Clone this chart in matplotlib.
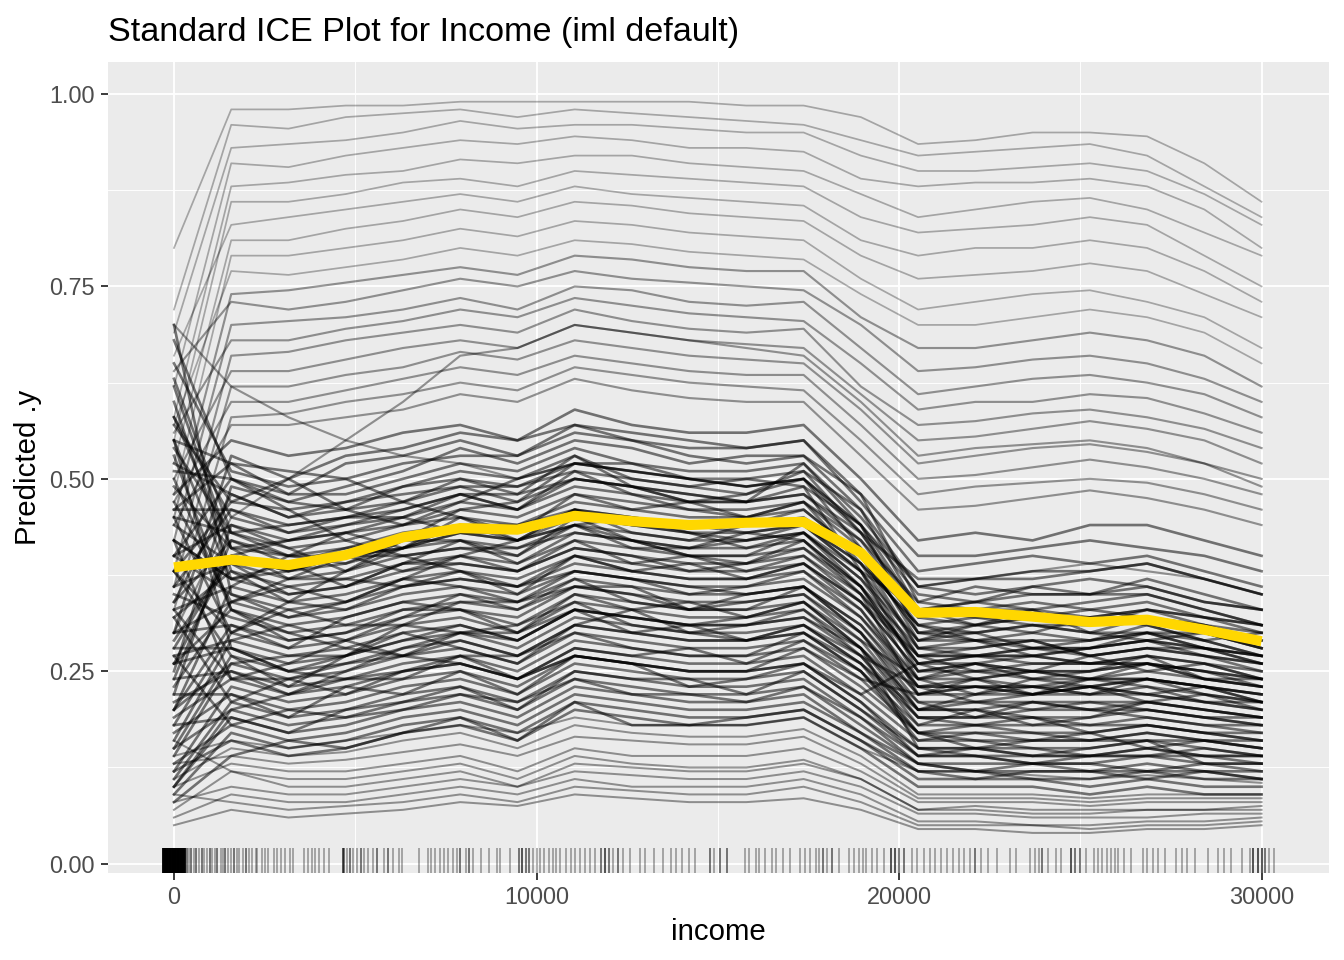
import matplotlib
matplotlib.use("Agg")
import matplotlib.pyplot as plt

# ---------------- data ----------------
grid_income = [0, 1579, 3158, 4737, 6316, 7895, 9474, 11053, 12632, 14211,
               15789, 17368, 18947, 20526, 22105, 23684, 25263, 26842, 28421, 30000]

pdp_values = [0.385, 0.395, 0.388, 0.401, 0.424, 0.436, 0.434, 0.452, 0.445, 0.440,
              0.443, 0.444, 0.404, 0.326, 0.327, 0.321, 0.314, 0.317, 0.304, 0.289]

ice_top = [
    [0.80,0.98,0.98,0.985,0.985,0.99,0.99,0.99,0.99,0.99,0.985,0.985,0.97,0.935,0.94,0.95,0.95,0.945,0.91,0.86],
    [0.72,0.96,0.955,0.97,0.975,0.98,0.97,0.98,0.975,0.97,0.965,0.96,0.94,0.92,0.925,0.93,0.935,0.92,0.88,0.84],
    [0.69,0.93,0.935,0.94,0.95,0.965,0.955,0.96,0.96,0.955,0.95,0.95,0.92,0.90,0.90,0.905,0.91,0.90,0.87,0.83],
    [0.62,0.91,0.905,0.92,0.93,0.94,0.935,0.945,0.94,0.93,0.93,0.925,0.89,0.88,0.885,0.885,0.89,0.88,0.85,0.80],
    [0.58,0.88,0.885,0.895,0.90,0.915,0.91,0.92,0.92,0.91,0.905,0.90,0.87,0.84,0.85,0.86,0.865,0.85,0.82,0.79],
    [0.55,0.86,0.86,0.87,0.885,0.89,0.88,0.90,0.895,0.89,0.885,0.88,0.84,0.82,0.825,0.83,0.84,0.83,0.79,0.75],
    [0.66,0.83,0.84,0.85,0.86,0.87,0.86,0.88,0.87,0.865,0.86,0.855,0.81,0.79,0.80,0.80,0.81,0.80,0.77,0.73],
    [0.52,0.81,0.81,0.825,0.835,0.85,0.84,0.86,0.855,0.845,0.84,0.835,0.79,0.76,0.765,0.77,0.78,0.77,0.74,0.71],
    [0.48,0.79,0.79,0.80,0.81,0.825,0.815,0.835,0.83,0.82,0.815,0.81,0.76,0.72,0.73,0.74,0.745,0.73,0.71,0.67],
    [0.57,0.77,0.765,0.775,0.785,0.80,0.79,0.81,0.805,0.795,0.79,0.785,0.74,0.70,0.70,0.71,0.72,0.71,0.69,0.65],
]

ice_upper = [
    [0.45,0.74,0.745,0.755,0.765,0.775,0.765,0.79,0.785,0.775,0.77,0.77,0.71,0.67,0.67,0.68,0.69,0.68,0.66,0.62],
    [0.64,0.73,0.72,0.73,0.745,0.76,0.75,0.77,0.76,0.755,0.75,0.745,0.70,0.64,0.645,0.655,0.66,0.65,0.63,0.60],
    [0.42,0.70,0.705,0.71,0.72,0.735,0.72,0.75,0.745,0.73,0.725,0.73,0.67,0.61,0.62,0.63,0.635,0.625,0.61,0.58],
    [0.56,0.68,0.68,0.695,0.705,0.72,0.71,0.735,0.725,0.715,0.71,0.705,0.65,0.59,0.60,0.60,0.61,0.605,0.585,0.56],
    [0.38,0.66,0.665,0.68,0.69,0.70,0.69,0.72,0.705,0.695,0.69,0.695,0.62,0.57,0.575,0.585,0.59,0.58,0.565,0.54],
    [0.50,0.64,0.64,0.655,0.67,0.68,0.67,0.70,0.69,0.68,0.675,0.67,0.61,0.55,0.555,0.565,0.575,0.565,0.55,0.52],
    [0.36,0.62,0.62,0.635,0.645,0.665,0.655,0.68,0.67,0.66,0.655,0.65,0.59,0.52,0.53,0.54,0.545,0.535,0.52,0.50],
    [0.47,0.60,0.60,0.615,0.63,0.645,0.635,0.66,0.65,0.64,0.635,0.635,0.57,0.50,0.505,0.515,0.525,0.515,0.50,0.48],
    [0.33,0.58,0.585,0.60,0.61,0.625,0.615,0.645,0.635,0.625,0.62,0.615,0.55,0.48,0.49,0.495,0.50,0.495,0.48,0.46],
    [0.44,0.57,0.57,0.58,0.59,0.61,0.60,0.63,0.615,0.605,0.60,0.60,0.53,0.46,0.465,0.475,0.485,0.475,0.46,0.44],
    [0.30,0.45,0.50,0.55,0.60,0.66,0.67,0.70,0.69,0.68,0.67,0.66,0.60,0.53,0.54,0.545,0.55,0.54,0.52,0.49],
    [0.70,0.62,0.58,0.55,0.53,0.52,0.50,0.52,0.51,0.50,0.49,0.50,0.44,0.36,0.37,0.38,0.39,0.38,0.37,0.35],
]

ice_center = [
    [0.48,0.55,0.53,0.54,0.56,0.57,0.55,0.59,0.57,0.56,0.56,0.57,0.50,0.42,0.43,0.42,0.44,0.44,0.42,0.40],
    [0.30,0.53,0.50,0.53,0.54,0.56,0.55,0.57,0.56,0.55,0.54,0.55,0.47,0.38,0.39,0.40,0.39,0.40,0.38,0.36],
    [0.65,0.51,0.49,0.50,0.52,0.53,0.53,0.56,0.55,0.53,0.52,0.53,0.48,0.40,0.40,0.41,0.42,0.41,0.40,0.38],
    [0.40,0.50,0.48,0.48,0.50,0.52,0.51,0.54,0.52,0.51,0.51,0.52,0.45,0.36,0.37,0.37,0.38,0.39,0.37,0.35],
    [0.25,0.49,0.47,0.46,0.49,0.51,0.50,0.52,0.52,0.50,0.49,0.50,0.44,0.35,0.34,0.36,0.35,0.36,0.34,0.33],
    [0.52,0.48,0.45,0.47,0.48,0.49,0.49,0.51,0.50,0.49,0.50,0.51,0.46,0.33,0.34,0.33,0.34,0.35,0.33,0.31],
    [0.36,0.46,0.44,0.45,0.47,0.49,0.47,0.50,0.49,0.48,0.47,0.48,0.42,0.34,0.33,0.33,0.32,0.33,0.32,0.30],
    [0.58,0.45,0.43,0.44,0.45,0.47,0.46,0.49,0.48,0.46,0.46,0.47,0.41,0.31,0.32,0.31,0.31,0.32,0.31,0.29],
    [0.22,0.44,0.42,0.43,0.44,0.46,0.45,0.48,0.47,0.46,0.45,0.46,0.40,0.30,0.30,0.31,0.30,0.30,0.30,0.28],
    [0.45,0.43,0.41,0.42,0.44,0.45,0.44,0.47,0.46,0.45,0.45,0.47,0.42,0.32,0.31,0.30,0.29,0.30,0.29,0.27],
    [0.34,0.42,0.39,0.41,0.43,0.44,0.43,0.46,0.45,0.44,0.44,0.44,0.38,0.29,0.29,0.28,0.28,0.29,0.28,0.26],
    [0.62,0.41,0.40,0.40,0.41,0.43,0.43,0.45,0.44,0.43,0.42,0.44,0.39,0.28,0.28,0.29,0.27,0.28,0.27,0.25],
    [0.28,0.40,0.38,0.39,0.41,0.42,0.41,0.44,0.43,0.42,0.42,0.43,0.37,0.27,0.27,0.27,0.26,0.27,0.26,0.25],
    [0.44,0.39,0.37,0.38,0.40,0.41,0.41,0.43,0.42,0.41,0.41,0.42,0.36,0.28,0.27,0.26,0.26,0.26,0.25,0.24],
    [0.32,0.38,0.36,0.37,0.39,0.40,0.39,0.42,0.41,0.40,0.40,0.41,0.35,0.26,0.26,0.25,0.25,0.26,0.25,0.23],
    [0.55,0.37,0.35,0.36,0.38,0.39,0.38,0.41,0.40,0.39,0.39,0.40,0.34,0.25,0.25,0.25,0.24,0.25,0.24,0.23],
    [0.20,0.36,0.34,0.35,0.37,0.38,0.37,0.40,0.39,0.38,0.38,0.39,0.33,0.24,0.25,0.24,0.24,0.24,0.23,0.22],
    [0.40,0.35,0.33,0.34,0.36,0.37,0.36,0.39,0.38,0.37,0.37,0.38,0.32,0.24,0.24,0.23,0.23,0.24,0.23,0.21],
    [0.30,0.34,0.32,0.33,0.35,0.36,0.35,0.38,0.37,0.36,0.36,0.37,0.32,0.23,0.23,0.23,0.22,0.23,0.22,0.21],
    [0.50,0.33,0.31,0.32,0.34,0.35,0.34,0.37,0.36,0.35,0.35,0.36,0.31,0.22,0.22,0.22,0.22,0.22,0.21,0.20],
    [0.18,0.30,0.34,0.38,0.42,0.46,0.47,0.52,0.51,0.50,0.49,0.50,0.43,0.33,0.34,0.35,0.35,0.35,0.33,0.31],
    [0.68,0.50,0.46,0.42,0.40,0.38,0.36,0.38,0.37,0.36,0.35,0.36,0.30,0.22,0.23,0.23,0.24,0.24,0.23,0.22],
    [0.46,0.52,0.51,0.50,0.47,0.45,0.42,0.44,0.42,0.40,0.39,0.42,0.36,0.26,0.27,0.28,0.28,0.29,0.28,0.27],
    [0.26,0.40,0.42,0.44,0.46,0.48,0.48,0.50,0.49,0.48,0.47,0.52,0.44,0.30,0.31,0.32,0.32,0.33,0.32,0.31],
    [0.38,0.47,0.46,0.47,0.49,0.50,0.49,0.52,0.51,0.50,0.50,0.49,0.38,0.27,0.27,0.28,0.27,0.28,0.27,0.26],
    [0.54,0.43,0.44,0.45,0.46,0.48,0.46,0.50,0.49,0.47,0.47,0.48,0.43,0.37,0.37,0.38,0.38,0.39,0.37,0.35],
    [0.24,0.42,0.40,0.41,0.42,0.44,0.42,0.45,0.44,0.43,0.43,0.44,0.38,0.33,0.32,0.32,0.31,0.33,0.31,0.29],
    [0.42,0.37,0.38,0.40,0.41,0.43,0.42,0.46,0.45,0.44,0.44,0.46,0.40,0.30,0.29,0.29,0.29,0.30,0.28,0.27],
]

ice_mixed = [
    [0.57,0.47,0.50,0.46,0.44,0.47,0.50,0.53,0.49,0.47,0.48,0.50,0.41,0.29,0.31,0.33,0.30,0.32,0.30,0.28],
    [0.33,0.36,0.40,0.43,0.41,0.45,0.43,0.48,0.46,0.47,0.45,0.47,0.39,0.31,0.29,0.30,0.32,0.31,0.29,0.30],
    [0.15,0.27,0.23,0.27,0.30,0.28,0.26,0.31,0.33,0.30,0.29,0.31,0.27,0.18,0.20,0.18,0.19,0.21,0.20,0.19],
    [0.60,0.38,0.34,0.33,0.36,0.38,0.35,0.40,0.38,0.39,0.37,0.39,0.34,0.25,0.26,0.24,0.25,0.27,0.24,0.23],
    [0.27,0.29,0.31,0.29,0.32,0.35,0.33,0.37,0.34,0.33,0.35,0.36,0.30,0.20,0.22,0.24,0.23,0.22,0.21,0.20],
    [0.49,0.41,0.37,0.40,0.38,0.40,0.42,0.44,0.45,0.43,0.41,0.43,0.36,0.26,0.24,0.25,0.27,0.25,0.26,0.24],
    [0.11,0.21,0.24,0.22,0.25,0.27,0.24,0.28,0.27,0.28,0.26,0.29,0.25,0.17,0.15,0.16,0.17,0.15,0.16,0.15],
    [0.40,0.44,0.41,0.38,0.41,0.44,0.44,0.46,0.43,0.42,0.44,0.45,0.40,0.28,0.29,0.27,0.28,0.30,0.28,0.26],
    [0.70,0.35,0.32,0.34,0.37,0.36,0.34,0.38,0.37,0.35,0.36,0.38,0.33,0.23,0.21,0.22,0.23,0.21,0.22,0.20],
    [0.19,0.24,0.26,0.29,0.27,0.30,0.31,0.34,0.31,0.30,0.31,0.32,0.28,0.19,0.19,0.21,0.20,0.19,0.18,0.18],
    [0.36,0.39,0.35,0.36,0.39,0.42,0.39,0.43,0.42,0.40,0.40,0.43,0.37,0.29,0.30,0.28,0.29,0.31,0.29,0.27],
    [0.53,0.33,0.29,0.30,0.33,0.33,0.30,0.35,0.33,0.34,0.32,0.34,0.28,0.21,0.19,0.20,0.21,0.20,0.19,0.19],
    [0.23,0.34,0.36,0.34,0.37,0.40,0.38,0.41,0.40,0.38,0.39,0.41,0.36,0.24,0.26,0.25,0.24,0.26,0.25,0.24],
    [0.08,0.14,0.16,0.15,0.17,0.19,0.16,0.21,0.18,0.18,0.19,0.20,0.16,0.12,0.11,0.12,0.12,0.11,0.12,0.11],
    [0.46,0.46,0.43,0.45,0.45,0.48,0.46,0.51,0.48,0.47,0.47,0.49,0.44,0.33,0.31,0.32,0.33,0.32,0.31,0.30],
    [0.30,0.31,0.28,0.32,0.34,0.33,0.32,0.36,0.36,0.33,0.34,0.35,0.29,0.24,0.22,0.23,0.22,0.24,0.22,0.21],
    [0.63,0.43,0.40,0.39,0.42,0.42,0.40,0.45,0.42,0.41,0.43,0.42,0.35,0.27,0.28,0.29,0.27,0.28,0.28,0.27],
    [0.17,0.22,0.19,0.23,0.22,0.25,0.22,0.27,0.26,0.23,0.24,0.26,0.21,0.14,0.15,0.14,0.15,0.16,0.13,0.13],
    [0.42,0.37,0.39,0.36,0.39,0.39,0.38,0.42,0.39,0.40,0.38,0.40,0.35,0.22,0.24,0.22,0.23,0.22,0.23,0.21],
    [0.26,0.28,0.25,0.27,0.31,0.30,0.29,0.33,0.30,0.31,0.29,0.31,0.26,0.17,0.18,0.19,0.17,0.18,0.17,0.16],
    [0.51,0.50,0.47,0.49,0.51,0.54,0.52,0.55,0.54,0.52,0.53,0.53,0.46,0.36,0.35,0.36,0.37,0.36,0.34,0.33],
    [0.13,0.18,0.20,0.19,0.20,0.22,0.21,0.24,0.22,0.22,0.21,0.23,0.19,0.13,0.12,0.13,0.13,0.12,0.13,0.12],
    [0.38,0.30,0.33,0.31,0.31,0.34,0.34,0.36,0.35,0.33,0.33,0.36,0.31,0.23,0.23,0.22,0.24,0.23,0.21,0.21],
    [0.58,0.41,0.42,0.43,0.45,0.43,0.42,0.46,0.44,0.44,0.43,0.44,0.39,0.31,0.30,0.31,0.30,0.29,0.30,0.28],
    [0.21,0.25,0.22,0.24,0.24,0.27,0.27,0.30,0.28,0.27,0.27,0.30,0.25,0.16,0.17,0.16,0.16,0.17,0.16,0.16],
    [0.34,0.48,0.45,0.46,0.47,0.50,0.48,0.53,0.50,0.49,0.48,0.51,0.43,0.32,0.33,0.34,0.33,0.34,0.32,0.31],
    [0.47,0.34,0.37,0.37,0.36,0.37,0.36,0.40,0.38,0.37,0.37,0.39,0.34,0.27,0.25,0.26,0.26,0.27,0.26,0.24],
    [0.10,0.19,0.17,0.20,0.21,0.23,0.20,0.25,0.24,0.24,0.22,0.25,0.20,0.14,0.14,0.13,0.14,0.14,0.15,0.14],
    [0.29,0.40,0.38,0.40,0.40,0.41,0.40,0.44,0.41,0.41,0.42,0.43,0.38,0.25,0.26,0.27,0.26,0.26,0.24,0.24],
    [0.55,0.52,0.48,0.52,0.53,0.55,0.53,0.57,0.55,0.54,0.54,0.55,0.48,0.34,0.36,0.35,0.35,0.37,0.35,0.33],
]

ice_low = [
    [0.35,0.32,0.30,0.31,0.33,0.34,0.33,0.36,0.35,0.34,0.34,0.35,0.30,0.21,0.21,0.21,0.20,0.21,0.20,0.19],
    [0.20,0.31,0.29,0.30,0.32,0.33,0.31,0.35,0.34,0.33,0.33,0.34,0.29,0.20,0.21,0.20,0.20,0.20,0.19,0.18],
    [0.45,0.30,0.28,0.29,0.31,0.32,0.30,0.34,0.33,0.32,0.32,0.33,0.28,0.20,0.20,0.19,0.19,0.20,0.19,0.18],
    [0.16,0.29,0.27,0.28,0.30,0.31,0.29,0.33,0.32,0.31,0.31,0.32,0.27,0.19,0.19,0.19,0.18,0.19,0.18,0.17],
    [0.28,0.28,0.26,0.27,0.29,0.30,0.28,0.32,0.31,0.30,0.30,0.31,0.26,0.19,0.18,0.18,0.18,0.18,0.17,0.17],
    [0.38,0.27,0.25,0.26,0.28,0.29,0.27,0.31,0.30,0.29,0.29,0.30,0.25,0.18,0.18,0.17,0.17,0.18,0.17,0.16],
    [0.14,0.26,0.24,0.25,0.27,0.28,0.26,0.30,0.29,0.28,0.28,0.29,0.24,0.17,0.17,0.17,0.16,0.17,0.16,0.15],
    [0.24,0.25,0.23,0.24,0.26,0.27,0.25,0.29,0.28,0.27,0.27,0.28,0.23,0.17,0.16,0.16,0.16,0.16,0.16,0.15],
    [0.42,0.24,0.22,0.23,0.25,0.26,0.24,0.28,0.27,0.26,0.26,0.27,0.22,0.16,0.16,0.15,0.15,0.16,0.15,0.14],
    [0.12,0.23,0.21,0.22,0.24,0.25,0.23,0.27,0.26,0.25,0.25,0.26,0.21,0.15,0.15,0.15,0.14,0.15,0.14,0.14],
    [0.22,0.22,0.20,0.21,0.23,0.24,0.22,0.26,0.25,0.24,0.24,0.25,0.20,0.15,0.14,0.14,0.14,0.14,0.14,0.13],
    [0.32,0.21,0.19,0.20,0.22,0.23,0.21,0.25,0.24,0.23,0.23,0.24,0.19,0.14,0.14,0.13,0.13,0.14,0.13,0.13],
    [0.10,0.20,0.18,0.19,0.21,0.22,0.20,0.24,0.23,0.22,0.22,0.23,0.18,0.13,0.13,0.13,0.12,0.13,0.12,0.12],
    [0.18,0.19,0.17,0.18,0.20,0.21,0.19,0.23,0.22,0.21,0.21,0.22,0.17,0.13,0.12,0.12,0.12,0.12,0.12,0.11],
    [0.27,0.18,0.16,0.17,0.19,0.20,0.18,0.22,0.21,0.20,0.20,0.21,0.17,0.12,0.12,0.11,0.11,0.12,0.11,0.11],
    [0.09,0.17,0.15,0.16,0.18,0.19,0.17,0.21,0.20,0.19,0.19,0.20,0.16,0.11,0.11,0.11,0.10,0.11,0.10,0.10],
    [0.55,0.28,0.25,0.24,0.25,0.26,0.24,0.27,0.26,0.25,0.25,0.28,0.24,0.22,0.23,0.22,0.23,0.24,0.23,0.22],
    [0.15,0.20,0.22,0.25,0.28,0.30,0.30,0.33,0.32,0.31,0.31,0.33,0.27,0.23,0.24,0.25,0.25,0.26,0.24,0.23],
    [0.26,0.33,0.30,0.28,0.27,0.26,0.24,0.27,0.26,0.25,0.25,0.26,0.22,0.26,0.27,0.27,0.28,0.29,0.27,0.26],
    [0.12,0.16,0.14,0.15,0.17,0.18,0.16,0.20,0.19,0.18,0.18,0.19,0.15,0.10,0.10,0.10,0.09,0.10,0.09,0.09],
    [0.20,0.26,0.27,0.27,0.29,0.31,0.29,0.33,0.32,0.31,0.32,0.34,0.28,0.15,0.15,0.14,0.14,0.15,0.14,0.14],
    [0.33,0.24,0.24,0.26,0.27,0.29,0.27,0.31,0.30,0.29,0.29,0.30,0.26,0.20,0.20,0.21,0.21,0.21,0.20,0.19],
]

ice_bottom = [
    [0.05,0.07,0.06,0.065,0.07,0.08,0.075,0.09,0.085,0.08,0.08,0.085,0.07,0.045,0.045,0.04,0.04,0.045,0.045,0.05],
    [0.06,0.09,0.08,0.08,0.09,0.10,0.09,0.11,0.10,0.10,0.10,0.11,0.09,0.055,0.055,0.05,0.05,0.055,0.055,0.06],
    [0.08,0.10,0.09,0.09,0.10,0.11,0.10,0.12,0.115,0.11,0.11,0.12,0.10,0.065,0.065,0.06,0.06,0.06,0.065,0.065],
    [0.07,0.12,0.11,0.11,0.12,0.13,0.11,0.14,0.13,0.125,0.125,0.135,0.11,0.07,0.075,0.07,0.07,0.07,0.07,0.075],
    [0.10,0.13,0.12,0.12,0.13,0.14,0.12,0.15,0.14,0.14,0.14,0.15,0.12,0.08,0.08,0.08,0.075,0.08,0.08,0.08],
    [0.13,0.14,0.13,0.135,0.145,0.155,0.14,0.165,0.16,0.155,0.155,0.165,0.13,0.085,0.085,0.085,0.08,0.085,0.085,0.085],
    [0.11,0.15,0.14,0.145,0.16,0.17,0.15,0.18,0.17,0.165,0.165,0.175,0.14,0.09,0.09,0.09,0.085,0.09,0.09,0.09],
    [0.16,0.12,0.10,0.10,0.11,0.12,0.10,0.13,0.125,0.12,0.12,0.13,0.11,0.07,0.07,0.065,0.065,0.07,0.07,0.07],
    [0.09,0.08,0.07,0.075,0.08,0.09,0.08,0.10,0.095,0.09,0.09,0.10,0.08,0.05,0.05,0.05,0.045,0.05,0.05,0.055],
    [0.14,0.16,0.15,0.16,0.17,0.18,0.17,0.19,0.18,0.18,0.18,0.19,0.15,0.12,0.12,0.115,0.11,0.115,0.11,0.105],
]

# rug: observed income positions (jittered as drawn) and how many marks overlap there
rug_income = [
    -300, -280, -260, -240, -220, -200, -180, -160, -140, -120, -100, -80, -60, -40, -20, 0,
    20, 40, 60, 80, 100, 120, 140, 160, 180, 200, 220, 240, 260, 280, 300,
    350, 420, 480, 560, 620, 700, 760, 830, 900, 980, 1050, 1130, 1200, 1290, 1350, 1420, 1500, 1580, 1650,
    1740, 1800, 1900, 1990, 2080, 2150, 2250, 2300, 2420, 2500, 2600,
    2750, 2850, 2950, 3050, 3200, 3280, 3600, 3700, 3800, 3900, 4000, 4150, 4270,
    4650, 4700, 4780, 4850, 4950, 5050, 5150, 5250, 5350, 5500, 5600, 5800, 5900, 6050, 6200, 6300,
    6750, 7000, 7100, 7200, 7350, 7450, 7550, 7700, 7800, 7900, 8050, 8150, 8250,
    8470, 8700, 8900, 8980, 9260,
    9510, 9600, 9700, 9800, 9900, 10000, 10100, 10200, 10350, 10450, 10550, 10650, 10800, 10950, 11050, 11200, 11350,
    11470, 11600, 11770, 11900, 12000, 12100, 12250, 12380,
    12570, 12850, 13000, 13250, 13500, 13700, 13850, 14000, 14200, 14360,
    14780, 14900, 15050, 15250,
    15740, 15850, 16050, 16150, 16300, 16500, 16600, 16800, 16980,
    17280, 17400, 17550, 17700, 17800, 17900, 18000, 18150, 18350,
    18610, 18750, 18900, 19000, 19100, 19250, 19400, 19580,
    19780, 19900, 20000, 20150, 20350,
    20490, 20700, 20850, 21000, 21150, 21310,
    21500, 21650, 21800, 21950, 22100, 22250, 22450, 22690,
    23050, 23240,
    23600, 23750, 23850, 23950, 24100, 24320, 24480,
    24730, 24850, 25000, 25150, 25390,
    25500, 25600, 25750, 25850, 25950, 26050, 26200, 26410,
    26720, 26850, 27000, 27150, 27340,
    27640, 27800, 27950, 28150,
    28510, 28800, 28950, 29150, 29450, 29690,
    29770, 29900, 30000, 30100, 30200, 30350,
]
rug_count = (
    [12] * 31 +
    [2, 1, 2, 1, 2, 1, 2, 1, 1, 2, 1, 1, 2, 1, 1, 2, 1, 1, 2, 1, 1, 1, 2, 1, 1, 1, 1, 1, 1, 1] +
    [1, 1, 1, 1, 1, 1, 1, 1, 1, 1, 1, 1, 1] +
    [3, 2, 1, 2, 1, 1, 2, 1, 1, 1, 2, 1, 2, 1, 1, 1] +
    [1, 1, 1, 1, 1, 1, 1, 1, 1, 2, 1, 2, 1] +
    [1, 1, 1, 1, 1] +
    [2, 3, 2, 2, 1, 1, 1, 1, 1, 1, 1, 1, 1, 1, 1, 1, 1] +
    [1, 1, 2, 3, 2, 1, 2, 1] +
    [1, 1, 1, 1, 1, 1, 1, 1, 1, 1] +
    [2, 1, 2, 2] +
    [1, 1, 1, 1, 1, 1, 1, 1, 1] +
    [1, 1, 1, 1, 1, 2, 1, 2, 1] +
    [1, 1, 1, 1, 1, 1, 1, 1] +
    [3, 3, 2, 2, 1] +
    [1, 1, 1, 1, 1, 1] +
    [1, 1, 1, 1, 2, 1, 1, 1] +
    [1, 1] +
    [1, 1, 1, 2, 1, 1, 1] +
    [3, 2, 2, 1, 1] +
    [1, 1, 1, 1, 1, 1, 1, 1] +
    [1, 1, 1, 1, 1] +
    [1, 1, 1, 1] +
    [1, 1, 1, 1, 1, 1] +
    [3, 3, 3, 2, 1, 1]
)

x_ticks = [0, 10000, 20000, 30000]
x_ticklabels = ["0", "10000", "20000", "30000"]
y_ticks = [0.0, 0.25, 0.50, 0.75, 1.00]
y_ticklabels = ["0.00", "0.25", "0.50", "0.75", "1.00"]

# ---------------- figure ----------------
plt.rcParams["font.family"] = ["Liberation Sans", "DejaVu Sans"]
W, H, DPI = 1344, 960, 192
fig = plt.figure(figsize=(W / DPI, H / DPI), dpi=DPI)
ax = fig.add_axes([108 / W, 1 - 872.7 / H, (1329 - 108) / W, (872.7 - 62) / H])
ax.set_facecolor("#EBEBEB")
for s in ax.spines.values():
    s.set_visible(False)

ax.set_xlim(-1820, 31860)
ax.set_ylim(-0.0117, 1.0416)

ax.set_xticks(x_ticks)
ax.set_xticklabels(x_ticklabels)
ax.set_yticks(y_ticks)
ax.set_yticklabels(y_ticklabels)
ax.set_xticks([5000, 15000, 25000], minor=True)
ax.set_yticks([0.125, 0.375, 0.625, 0.875], minor=True)
ax.grid(which="major", color="white", lw=0.7)
ax.grid(which="minor", color="white", lw=0.35)
ax.set_axisbelow(True)
ax.tick_params(which="major", length=2.6, width=0.7, color="#333333",
               labelsize=8.8, labelcolor="#4D4D4D", pad=2.4)
ax.tick_params(which="minor", length=0)

group_style = [
    (ice_top, 0.30, 0.65),
    (ice_upper, 0.40, 0.8),
    (ice_center, 0.52, 1.0),
    (ice_mixed, 0.52, 1.0),
    (ice_low, 0.52, 1.0),
    (ice_bottom, 0.40, 0.75),
]
for group, alpha, lw in group_style:
    for curve in group:
        ax.plot(grid_income, curve, color="black", alpha=alpha, lw=lw,
                solid_joinstyle="round", zorder=2)

ax.plot(grid_income, pdp_values, color="#FFD700", lw=3.8, zorder=3,
        solid_joinstyle="round", solid_capstyle="butt")

trans = ax.get_xaxis_transform()
for xv, c in zip(rug_income, rug_count):
    a = 1 - 0.68 ** c
    ax.plot([xv, xv], [0, 0.03], transform=trans, color="black", alpha=a,
            lw=0.7, solid_capstyle="butt", zorder=2)

fig.text(108 / W, 1 - 40.7 / H, "Standard ICE Plot for Income (iml default)",
         fontsize=12.8, color="black", ha="left", va="baseline")
fig.text((108 + 1329) / 2 / W, 1 - 940 / H, "income", fontsize=11,
         color="black", ha="center", va="baseline")
fig.text(28 / W, 1 - 467 / H, "Predicted .y", fontsize=11, color="black",
         ha="center", va="center", rotation=90)

fig.savefig("out.png", dpi=DPI)
